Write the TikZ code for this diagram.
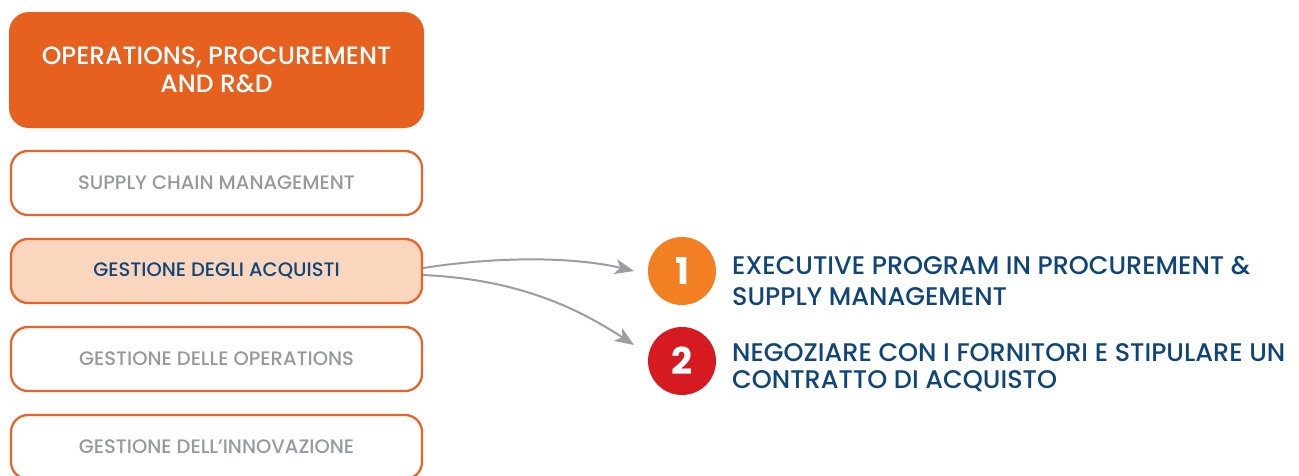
\documentclass[tikz,border=0pt]{standalone}
\usepackage{fontspec}
\setmainfont{Poppins Medium}[BoldFont={Poppins SemiBold}]
\newfontfamily\numfont{Poppins Bold}
\usetikzlibrary{arrows.meta}
\definecolor{hdrorange}{HTML}{E6611F}
\definecolor{bdorange}{HTML}{E8642A}
\definecolor{lightfill}{HTML}{F9D6BD}
\definecolor{txtgray}{HTML}{98999C}
\definecolor{txtblue}{HTML}{0F4579}
\definecolor{cone}{HTML}{F37F23}
\definecolor{ctwo}{HTML}{D51A21}
\definecolor{arrgray}{HTML}{9C9DA0}
\tikzset{
  hdrbox/.style={fill=hdrorange, rounded corners=20pt, minimum width=415pt, minimum height=116pt,
    inner sep=0pt, text=white, align=center, font=\fontsize{25}{28}\selectfont},
  itembox/.style={draw=bdorange, line width=2.3pt, fill=white, rounded corners=17pt, minimum width=411pt,
    minimum height=64pt, inner sep=0pt, text=txtgray, font=\fontsize{19.5}{22}\selectfont},
  selbox/.style={itembox, fill=lightfill, text=txtblue},
  numcirc/.style={circle, minimum size=68pt, inner sep=0pt, text=white, font=\fontsize{37}{37}\numfont},
  rtext/.style={anchor=base west, text=txtblue, font=\fontsize{25.5}{29}\selectfont, inner sep=0pt},
  conn/.style={draw=arrgray, line width=2pt, -{Stealth[length=19pt, width=15pt, inset=5pt]}}
}
\begin{document}
\begin{tikzpicture}[x=1pt, y=-1pt]
\clip (0,0) rectangle (1299,475);
\useasboundingbox (0,0) rectangle (1299,475);
\node[hdrbox] (hdr) at (216.5,70) {OPERATIONS, PROCUREMENT\\AND R\&D};
\node[itembox] (scm) at (216.5,183) {SUPPLY CHAIN MANAGEMENT};
\node[selbox] (gda) at (216.5,271) {GESTIONE DEGLI ACQUISTI};
\node[itembox] (gdo) at (216.5,359) {GESTIONE DELLE OPERATIONS};
\node[itembox] (gdi) at (216.5,447) {GESTIONE DELL’INNOVAZIONE};
\node[numcirc, fill=cone] (c1) at (682,271) {1};
\node[numcirc, fill=ctwo] (c2) at (682,361) {2};
\node[rtext] (t1a) at (732,274.5) {EXECUTIVE PROGRAM IN PROCUREMENT \&};
\node[rtext] (t1b) at (732,305) {SUPPLY MANAGEMENT};
\node[rtext] (t2a) at (732,361.5) {NEGOZIARE CON I FORNITORI E STIPULARE UN};
\node[rtext] (t2b) at (732,388.5) {CONTRATTO DI ACQUISTO};
\coordinate (e1) at (634,271);
\coordinate (e2) at (634,345);
\draw[conn] ([yshift=3pt]gda.east) .. controls (500,256) and (575,257) .. (e1);
\draw[conn] ([yshift=-4pt]gda.east) .. controls (510,279) and (570,303) .. (e2);
\end{tikzpicture}
\end{document}
